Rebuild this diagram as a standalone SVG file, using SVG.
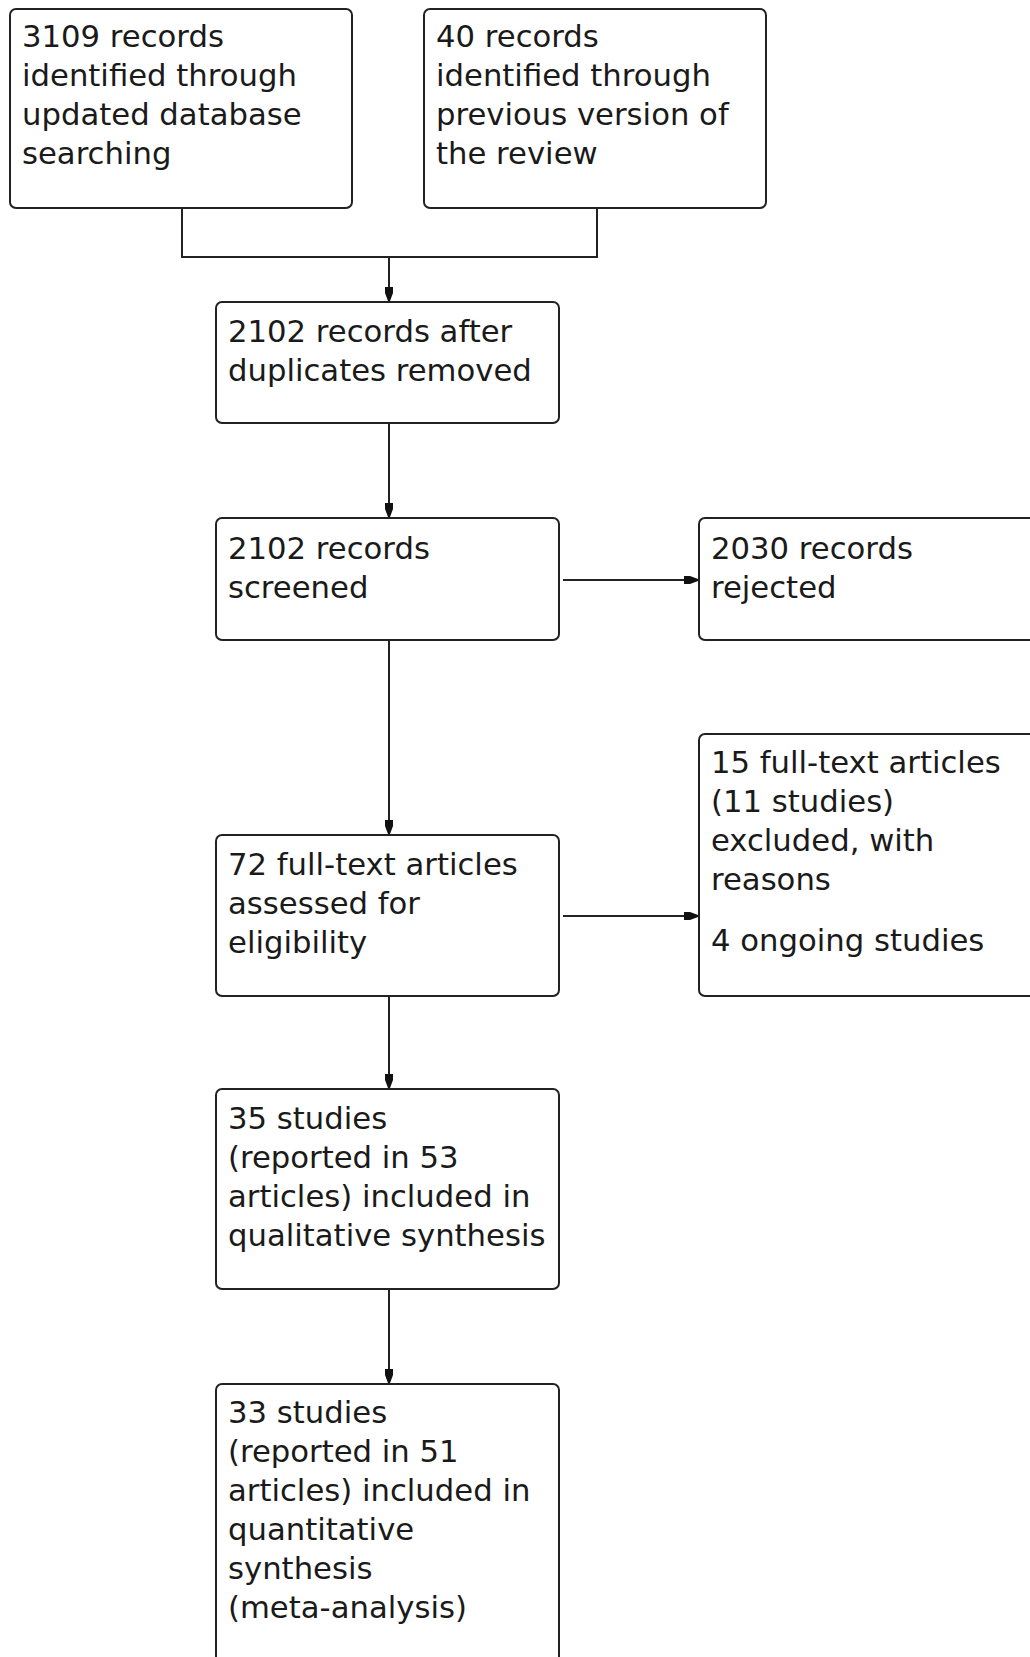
<svg xmlns="http://www.w3.org/2000/svg" width="1030" height="1657" viewBox="0 0 1030 1657">
<style>
.box{fill:#fff;stroke:#222;stroke-width:2}
.t{font-family:"DejaVu Sans","Verdana",sans-serif;font-size:30.7px;fill:#1a1a1a}
.c{fill:none;stroke:#222;stroke-width:2}
</style>
<defs>
<marker id="ah" markerUnits="userSpaceOnUse" markerWidth="14" markerHeight="10" viewBox="0 0 14 10" refX="14" refY="5" orient="auto">
<path d="M0,1 L6,1 L14,4 L14,6 L6,9 L0,9 z" fill="#111"/>
</marker>
</defs>
<rect width="1030" height="1657" fill="#fff"/>
<g id="connectors">
<polyline class="c" points="182,208 182,257 597,257 597,208"/>
<line class="c" x1="389" y1="257" x2="389" y2="301" marker-end="url(#ah)"/>
<line class="c" x1="389" y1="423" x2="389" y2="517" marker-end="url(#ah)"/>
<line class="c" x1="389" y1="640" x2="389" y2="834" marker-end="url(#ah)"/>
<line class="c" x1="389" y1="996" x2="389" y2="1088" marker-end="url(#ah)"/>
<line class="c" x1="389" y1="1289" x2="389" y2="1383" marker-end="url(#ah)"/>
<line class="c" x1="563" y1="580" x2="698" y2="580" marker-end="url(#ah)"/>
<line class="c" x1="563" y1="916" x2="698" y2="916" marker-end="url(#ah)"/>
</g>
<g id="n1">
<rect class="box" x="10" y="9" width="342" height="199" rx="6"/>
<text class="t" x="22" y="47">3109 records</text>
<text class="t" x="22" y="86">identified through</text>
<text class="t" x="22" y="125">updated database</text>
<text class="t" x="22" y="164">searching</text>
</g>
<g id="n2">
<rect class="box" x="424" y="9" width="342" height="199" rx="6"/>
<text class="t" x="436" y="47">40 records</text>
<text class="t" x="436" y="86">identified through</text>
<text class="t" x="436" y="125">previous version of</text>
<text class="t" x="436" y="164">the review</text>
</g>
<g id="n3">
<rect class="box" x="216" y="302" width="343" height="121" rx="6"/>
<text class="t" x="228" y="342">2102 records after</text>
<text class="t" x="228" y="381">duplicates removed</text>
</g>
<g id="n4">
<rect class="box" x="216" y="518" width="343" height="122" rx="6"/>
<text class="t" x="228" y="559">2102 records</text>
<text class="t" x="228" y="598">screened</text>
</g>
<g id="n5">
<rect class="box" x="699" y="518" width="345" height="122" rx="6"/>
<text class="t" x="711" y="559">2030 records</text>
<text class="t" x="711" y="598">rejected</text>
</g>
<g id="n6">
<rect class="box" x="699" y="734" width="345" height="262" rx="6"/>
<text class="t" x="711" y="773">15 full-text articles</text>
<text class="t" x="711" y="812">(11 studies)</text>
<text class="t" x="711" y="851">excluded, with</text>
<text class="t" x="711" y="890">reasons</text>
<text class="t" x="711" y="951">4 ongoing studies</text>
</g>
<g id="n7">
<rect class="box" x="216" y="835" width="343" height="161" rx="6"/>
<text class="t" x="228" y="875">72 full-text articles</text>
<text class="t" x="228" y="914">assessed for</text>
<text class="t" x="228" y="953">eligibility</text>
</g>
<g id="n8">
<rect class="box" x="216" y="1089" width="343" height="200" rx="6"/>
<text class="t" x="228" y="1129">35 studies</text>
<text class="t" x="228" y="1168">(reported in 53</text>
<text class="t" x="228" y="1207">articles) included in</text>
<text class="t" x="228" y="1246">qualitative synthesis</text>
</g>
<g id="n9">
<rect class="box" x="216" y="1384" width="343" height="290" rx="6"/>
<text class="t" x="228" y="1423">33 studies</text>
<text class="t" x="228" y="1462">(reported in 51</text>
<text class="t" x="228" y="1501">articles) included in</text>
<text class="t" x="228" y="1540">quantitative</text>
<text class="t" x="228" y="1579">synthesis</text>
<text class="t" x="228" y="1618">(meta-analysis)</text>
</g>
</svg>
